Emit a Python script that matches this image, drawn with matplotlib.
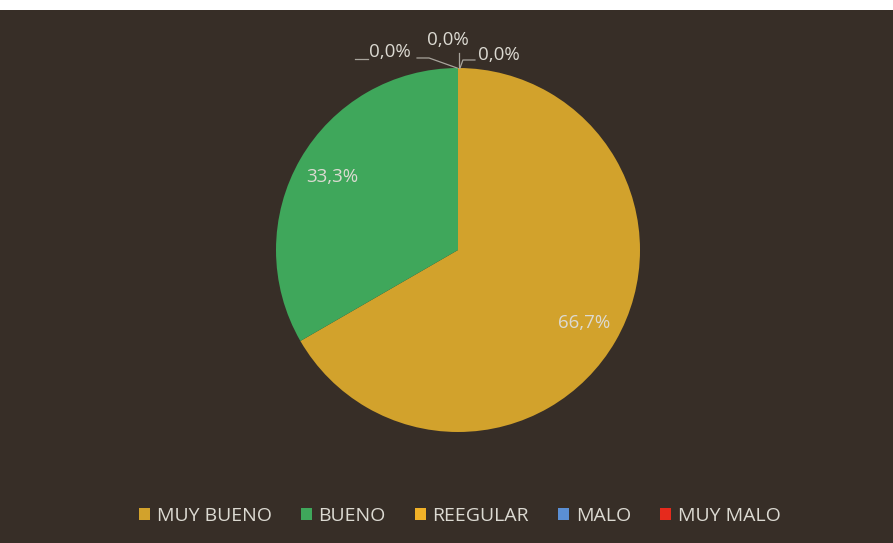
import numpy as np
import matplotlib.pyplot as plt
from matplotlib.patches import Rectangle, Patch

# data
categorias = ["MUY BUENO", "BUENO", "REEGULAR", "MALO", "MUY MALO"]
valores = [2, 1, 0, 0, 0]
colores = ["#d2a22c", "#3fa75b", "#f0b128", "#5b8fd4", "#e62a1c"]

fondo = "#372e27"
texto = "#dcdad2"
linea = "#a8a49c"
plt.rcParams["font.family"] = ["Open Sans", "DejaVu Sans"]

fig = plt.figure(figsize=(8.93, 5.43), dpi=100, facecolor=fondo)
# white strip of the scanned page at the top
fig.patches.append(Rectangle((0, 1 - 10 / 543), 1, 10 / 543, transform=fig.transFigure,
                             facecolor="white", edgecolor="none"))

# pie centred at (458, 250) px, radius 182 px
ax = fig.add_axes([(458 - 182) / 893, (543 - 432) / 543, 364 / 893, 364 / 543])
ax.set_facecolor(fondo)
wedges, _ = ax.pie(valores, colors=colores, startangle=90, counterclock=False,
                   radius=1, wedgeprops=dict(linewidth=0))
ax.set_xlim(-1, 1)
ax.set_ylim(-1, 1)
ax.set_aspect("auto")
ax.axis("off")

total = sum(valores)
etiquetas = [f"{v / total * 100:.1f}%".replace(".", ",") for v in valores]

# labels inside the non-zero slices
for w, lab, v in zip(wedges, etiquetas, valores):
    if v == 0:
        continue
    ang = np.deg2rad((w.theta1 + w.theta2) / 2)
    ax.text(0.8 * np.cos(ang), 0.8 * np.sin(ang), lab, color=texto,
            fontsize=13.5, ha="center", va="center")

# zero slices: labels outside with leader lines to the top of the pie
pos_ceros = [(-0.374, 1.088), (-0.055, 1.154), (0.225, 1.071)]
lab_ceros = [lab for lab, v in zip(etiquetas, valores) if v == 0]
for (x, y), lab in zip(pos_ceros, lab_ceros):
    ax.text(x, y, lab, color=texto, fontsize=13.5, ha="center", va="center",
            clip_on=False)
ax.plot([-0.566, -0.495], [1.049, 1.049], color=linea, lw=0.9, clip_on=False)
ax.plot([-0.225, -0.159, -0.005], [1.055, 1.055, 1.0], color=linea, lw=0.9, clip_on=False)
ax.plot([0.005, 0.005], [1.082, 1.0], color=linea, lw=0.9, clip_on=False)
ax.plot([0.093, 0.027, 0.011], [1.044, 1.044, 1.0], color=linea, lw=0.9, clip_on=False)

handles = [Patch(facecolor=c, edgecolor="none") for c in colores]
leg = fig.legend(handles, categorias, loc="center", ncol=5,
                 bbox_to_anchor=(460 / 893, 1 - 516 / 543), frameon=False,
                 handlelength=0.55, handleheight=0.55, handletextpad=0.35,
                 columnspacing=1.5, fontsize=14)
for t in leg.get_texts():
    t.set_color(texto)

fig.savefig("out.png", dpi=100, facecolor=fondo)
